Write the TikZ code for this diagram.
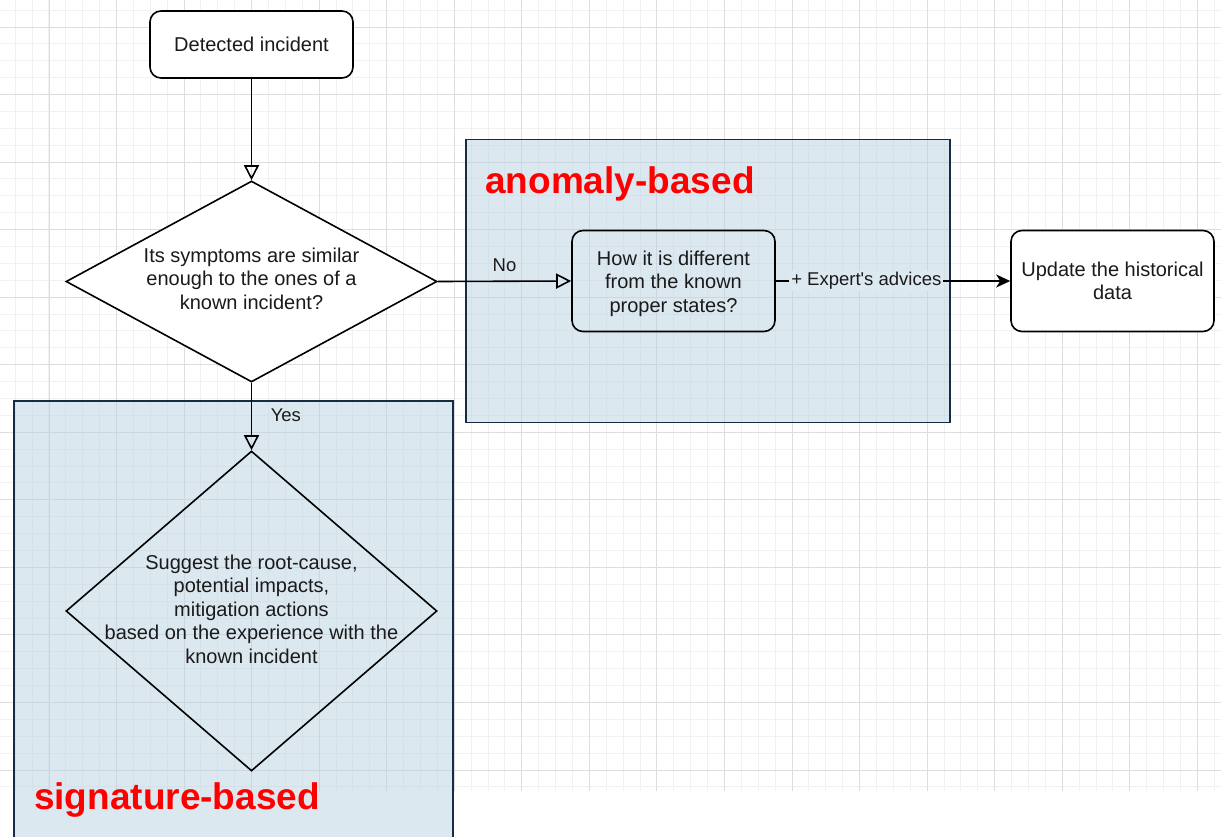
\documentclass[tikz,border=0pt]{standalone}
\usepackage{fontspec}
\setmainfont{Liberation Sans}
\usetikzlibrary{shapes.geometric,arrows.meta}
\definecolor{gridminor}{HTML}{F1F1F1}
\definecolor{gridmajor}{HTML}{DDDDDD}
\definecolor{boxfill}{HTML}{BAD3E3}
\definecolor{boxmix}{HTML}{DDE9F0}
\definecolor{boxline}{HTML}{172B45}
\definecolor{txt}{HTML}{1A1A1A}
\definecolor{lblred}{HTML}{FF0000}
\begin{document}
\begin{tikzpicture}[x=1pt,y=-1pt,
  every node/.style={font=\fontsize{20}{23.5}\selectfont, text=txt, inner sep=0pt},
  proc/.style={draw=black, line width=1.6pt, rounded corners=11pt, minimum width=203pt, align=center},
  decide/.style={draw=black, line width=1.6pt, diamond, minimum width=371pt, align=center},
  grp/.style={draw=boxline, line width=1.6pt, fill=boxfill, fill opacity=0.5},
  grplabel/.style={font=\fontsize{37}{40}\selectfont\bfseries, text=lblred},
  elabel/.style={font=\fontsize{18.5}{22}\selectfont},
  flow/.style={draw=black, line width=1.6pt, -{Triangle[open, length=15pt, width=15pt]}},
  flowfill/.style={draw=black, line width=1.6pt, -{Stealth[length=14pt, width=13pt, inset=4pt]}}
]
\useasboundingbox (0,0) rectangle (1221,836);
\fill[white] (0,0) rectangle (1221,836);
% grid
\begin{scope}
\clip (0,0) rectangle (1221,791);
\foreach \i in {0,...,72} {
  \draw[gridminor, line width=1pt] ({15.22+16.888*\i},0) -- ({15.22+16.888*\i},791);
}
\foreach \i in {0,...,46} {
  \draw[gridminor, line width=1pt] (0,{10.11+16.888*\i}) -- (1221,{10.11+16.888*\i});
}
\foreach \i in {0,...,17} {
  \draw[gridmajor, line width=1pt] ({49+67.55*\i},0) -- ({49+67.55*\i},791);
}
\foreach \i in {0,...,11} {
  \draw[gridmajor, line width=1pt] (0,{27+67.55*\i}) -- (1221,{27+67.55*\i});
}
\end{scope}

% group boxes
\node[grp, minimum width=484pt, minimum height=283pt] (anom) at (708,281) {};
\node[grp, minimum width=439pt, minimum height=440pt] (sig) at (233.5,621) {};
\node[grplabel] (anomlbl) at (620,184) {anomaly-based};
\node[grplabel] (siglbl) at (177,800) {signature-based};

% nodes
\node[proc, fill=white, minimum height=67pt] (det) at (251.5,44.5) {Detected incident};
\node[decide, fill=white, minimum height=201pt, aspect=1.85] (d1) at (251.5,281.5) {};
\node[align=center] (d1txt) at (251.5,278.5)
  {Its symptoms are similar\\enough to the ones of a\\known incident?};
\node[proc, minimum height=101pt] (how) at (673.5,281) {};
\node[align=center] (howtxt) at (673.5,283.5)
  {How it is different\\from the known\\proper states?};
\node[proc, fill=white, minimum height=101pt] (upd) at (1112.5,281)
  {Update the historical\\data};
\node[decide, minimum height=320pt, aspect=1.16] (d2) at (251.5,611) {};
\node[align=center] (d2txt) at (251.5,609)
  {Suggest the root-cause,\\potential impacts,\\mitigation actions\\based on the experience with the\\known incident};

% connectors
\draw[flow] (det.south) -- (d1.north);
\draw[flow] (d1.east) -- node[elabel, above=9pt] {No} (how.west);
\draw[flow] (d1.south) -- node[elabel, pos=0.48, anchor=west, xshift=18.5pt] {Yes} (d2.north);
\draw[flowfill] (how.east) -- node[elabel, pos=0.386, fill=boxmix, inner xsep=2pt, inner ysep=1pt] {+ Expert\textquotesingle s advices} (upd.west);
\end{tikzpicture}
\end{document}
